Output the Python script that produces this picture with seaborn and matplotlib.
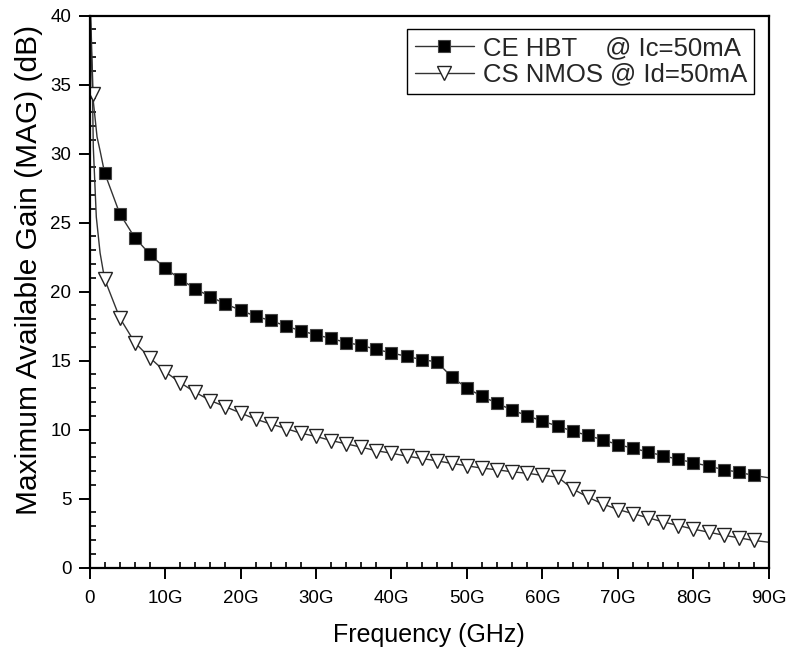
import matplotlib
matplotlib.use("Agg")
import matplotlib.pyplot as plt
import seaborn as sns
import pandas as pd
from matplotlib.ticker import MultipleLocator, FixedLocator

# ---- data ----
marker_freq = [2, 4, 6, 8, 10, 12, 14, 16, 18, 20, 22, 24, 26, 28, 30, 32, 34, 36, 38, 40,
               42, 44, 46, 48, 50, 52, 54, 56, 58, 60, 62, 64, 66, 68, 70, 72, 74, 76, 78, 80,
               82, 84, 86, 88]

hbt_gain = [28.6, 25.65, 23.9, 22.7, 21.7, 20.9, 20.2, 19.63, 19.1, 18.65,
            18.2, 17.9, 17.5, 17.15, 16.86, 16.6, 16.3, 16.1, 15.8, 15.55,
            15.3, 15.07, 14.9, 13.8, 13.0, 12.4, 11.9, 11.4, 11.0, 10.6,
            10.25, 9.88, 9.57, 9.25, 8.9, 8.65, 8.36, 8.1, 7.83, 7.6,
            7.34, 7.1, 6.9, 6.67]
hbt_start_freq = [0.1, 0.5, 1.0, 1.4]
hbt_start_gain = [41.0, 33.8, 31.2, 30.2]
hbt_end_freq = [90]
hbt_end_gain = [6.5]

nmos_gain = [20.9, 18.1, 16.3, 15.2, 14.2, 13.4, 12.7, 12.1, 11.65, 11.2,
             10.75, 10.4, 10.07, 9.73, 9.5, 9.2, 8.96, 8.72, 8.46, 8.28,
             8.07, 7.9, 7.73, 7.54, 7.37, 7.2, 7.08, 6.93, 6.83, 6.67,
             6.56, 5.7, 5.1, 4.6, 4.2, 3.9, 3.6, 3.3, 3.04, 2.78,
             2.56, 2.34, 2.15, 1.96]
nmos_start_freq = [0.05, 0.4, 0.5, 0.9, 1.4]
nmos_start_gain = [41.0, 34.3, 30.5, 25.4, 22.8]
nmos_end_freq = [90]
nmos_end_gain = [1.83]

x_ticks = [0, 10, 20, 30, 40, 50, 60, 70, 80, 90]
x_tick_labels = ["0", "10G", "20G", "30G", "40G", "50G", "60G", "70G", "80G", "90G"]
y_ticks = [0, 5, 10, 15, 20, 25, 30, 35, 40]

label_hbt = "CE HBT    @ Ic=50mA"
label_nmos = "CS NMOS @ Id=50mA"

# ---- figure ----
sns.set_theme(style="white")
plt.rcParams["font.family"] = ["Liberation Sans", "DejaVu Sans"]

fig = plt.figure(figsize=(7.9, 6.52), dpi=100)
ax = fig.add_axes([0.1133, 0.1296, 0.8601, 0.8466])

hbt_df = pd.DataFrame({"f": hbt_start_freq + marker_freq + hbt_end_freq,
                       "g": hbt_start_gain + hbt_gain + hbt_end_gain})
nmos_df = pd.DataFrame({"f": nmos_start_freq + marker_freq + nmos_end_freq,
                        "g": nmos_start_gain + nmos_gain + nmos_end_gain})

hbt_mark = list(range(len(hbt_start_freq), len(hbt_start_freq) + len(marker_freq)))
nmos_mark = [1] + list(range(len(nmos_start_freq), len(nmos_start_freq) + len(marker_freq)))

sns.lineplot(data=hbt_df, x="f", y="g", ax=ax, sort=False, estimator=None,
             color="#333333", linewidth=1.0, marker="s", markersize=8.4,
             markerfacecolor="black", markeredgecolor="#444444", markeredgewidth=0.8,
             markevery=hbt_mark, label=label_hbt)
sns.lineplot(data=nmos_df, x="f", y="g", ax=ax, sort=False, estimator=None,
             color="#333333", linewidth=1.0, marker="v", markersize=10.5,
             markerfacecolor="white", markeredgecolor="#222222", markeredgewidth=1.0,
             markevery=nmos_mark, label=label_nmos)

ax.set_xlim(0, 90)
ax.set_ylim(0, 40)
ax.xaxis.set_major_locator(FixedLocator(x_ticks))
ax.set_xticklabels(x_tick_labels)
ax.yaxis.set_major_locator(FixedLocator(y_ticks))
ax.xaxis.set_minor_locator(MultipleLocator(2))
ax.yaxis.set_minor_locator(MultipleLocator(1))

for s in ax.spines.values():
    s.set_color("black")
    s.set_linewidth(1.6)

ax.tick_params(axis="both", which="major", direction="out", length=8, width=1.4,
               color="black", labelsize=13.5, labelcolor="black", pad=5)
ax.tick_params(axis="both", which="minor", direction="in", length=4.5, width=1.2,
               color="black")
ax.tick_params(bottom=True, left=True, top=False, right=False, which="both")
ax.tick_params(axis="x", which="major", pad=8)

ax.set_xlabel("Frequency (GHz)", fontsize=18, color="black", labelpad=12)
ax.set_ylabel("Maximum Available Gain (MAG) (dB)", fontsize=21.5, color="black")
ax.yaxis.set_label_coords(-0.068, 0.539)
ax.grid(False)

leg = ax.legend(loc="upper right", bbox_to_anchor=(0.978, 0.9755), borderaxespad=0,
                fontsize=18.5, frameon=True, fancybox=False, framealpha=1,
                edgecolor="black", handlelength=2.3, handletextpad=0.35,
                labelspacing=0.1, borderpad=0.28)
leg.get_frame().set_linewidth(1.0)

fig.savefig("out.png", dpi=100, facecolor="white")
